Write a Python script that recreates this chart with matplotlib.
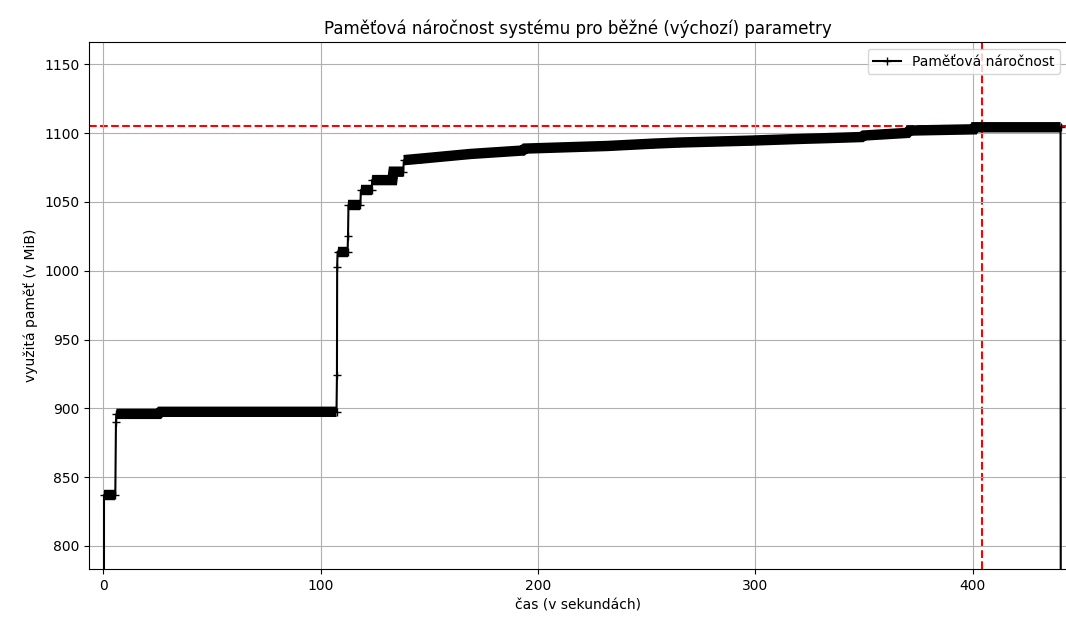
import numpy as np
import matplotlib.pyplot as plt

time_s = [0.2, 0.3, 5.5, 5.8, 6.0, 25.5, 26.3, 107.3,
          107.5, 107.6, 107.8, 112.4, 112.6, 112.8, 118.3,
          118.5, 123.5, 123.7, 133.0, 133.5, 138.0,
          138.3, 146.0, 169.0, 193.0, 194.0, 232.0, 253.0,
          265.0, 298.0, 322.0, 333.0, 349.0, 350.0, 370.0,
          371.0, 400.5, 401.0, 440.5, 440.8]
mem_mib = [0, 837, 837, 890, 896, 896, 897.5, 897.5,
           924, 1003, 1014, 1014, 1025.5, 1047.7, 1047.7,
           1058.6, 1058.6, 1065.9, 1065.9, 1072, 1072,
           1080.4, 1081.5, 1084.9, 1087.4, 1088.8, 1090.7, 1092.4,
           1093.2, 1094.6, 1095.9, 1096.4, 1097.2, 1098.3, 1100.2,
           1101.9, 1102.8, 1104.3, 1104.3, 0]

mem_limit = 1105.5
end_time = 404.4

t = np.array(time_s)
m = np.array(mem_mib)

fig = plt.figure(figsize=(10.66, 6.19), dpi=100)
ax = fig.add_axes([0.0835, 0.08, 0.9175, 0.852])

# dense sampling shows up as a thick band on the flat parts
runs = []
cur = [0]
for i in range(1, len(t)):
    if t[i] - t[i - 1] > 0.45:
        cur.append(i)
    else:
        if len(cur) > 1:
            runs.append(cur)
        cur = [i]
if len(cur) > 1:
    runs.append(cur)
for r in runs:
    ax.plot(t[r], m[r], color='black', linewidth=7.5, solid_capstyle='butt',
            solid_joinstyle='miter')

ax.plot(t, m, color='black', marker='+', label='Paměťová náročnost')

# limits drawn under the data
ax.axhline(mem_limit, color='red', linestyle='--', zorder=1.5)
ax.axvline(end_time, color='red', linestyle='--', zorder=1.5)

ax.set_xlim(-6.6, 443.5)
ax.set_ylim(782.9, 1166.2)
ax.set_title('Paměťová náročnost systému pro běžné (výchozí) parametry', fontsize=12)
ax.set_xlabel('čas (v sekundách)')
ax.set_ylabel('využitá paměť (v MiB)')
ax.grid(True)
ax.legend(loc='upper right')

fig.savefig('out.png', dpi=100)
